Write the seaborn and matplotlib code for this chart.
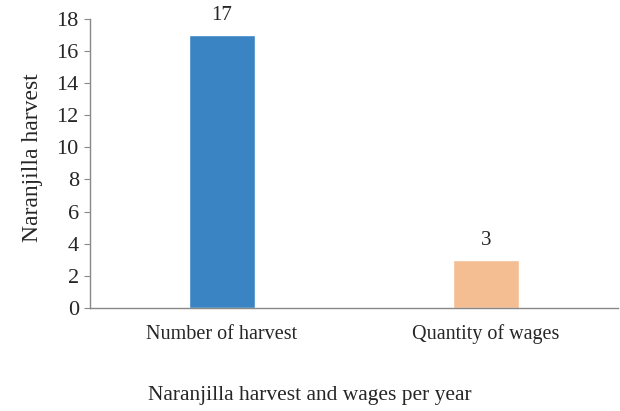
import pandas as pd
import matplotlib
matplotlib.use('Agg')
import matplotlib.pyplot as plt
import seaborn as sns

# Data
categories = ['Number of harvest', 'Quantity of wages']
values = [17, 3]
bar_colors = ['#3A84C3', '#F4BE92']

df = pd.DataFrame({'Category': categories, 'Value': values})

sns.set_style('white')
plt.rcParams['font.family'] = ['Liberation Serif', 'DejaVu Serif']

fig = plt.figure(figsize=(6.2, 4.11), dpi=100)
ax = fig.add_axes([0.145, 0.251, 0.852, 0.703])

sns.barplot(data=df, x='Category', y='Value', hue='Category', palette=bar_colors,
            width=0.25, legend=False, ax=ax, saturation=1)

for i, v in enumerate(values):
    ax.text(i, v + 0.6, f'{v}', ha='center', va='bottom', fontsize=15)

ax.set_xlim(-0.5, 1.5)
ax.set_ylim(0, 18)
ax.set_yticks(range(0, 19, 2))
ax.tick_params(axis='y', labelsize=16, length=4, color='#888888', left=True, pad=4)
ax.tick_params(axis='x', labelsize=14.5, length=0, pad=12)

sns.despine(ax=ax, top=True, right=True)
for s in ['left', 'bottom']:
    ax.spines[s].set_color('#888888')
    ax.spines[s].set_linewidth(1)

ax.set_ylabel('Naranjilla harvest', fontsize=17, labelpad=10)
ax.yaxis.label.set_y(0.52)
ax.set_xlabel('Naranjilla harvest and wages per year', fontsize=15.5, labelpad=30)
# the title sits at the centre of the figure, not of the axes
ax.xaxis.label.set_x((0.5 - 0.145) / 0.852)

fig.savefig('out.png', dpi=100)
